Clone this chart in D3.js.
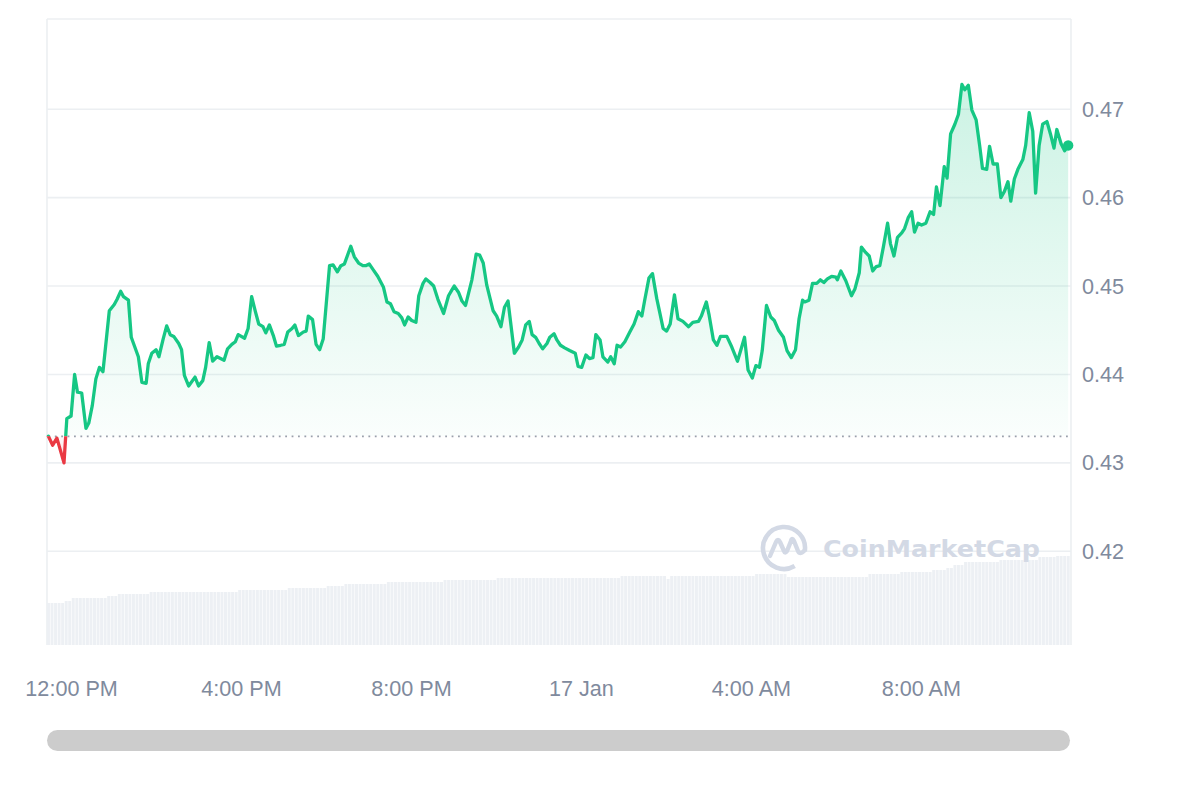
<!DOCTYPE html>
<html><head><meta charset="utf-8">
<script src="https://cdn.jsdelivr.net/npm/d3@7"></script>
<style>html,body{margin:0;padding:0;background:#fff;} svg{display:block;}</style>
</head><body>
<svg id="chart" width="1200" height="800"></svg>
<script>
// ---------- data ----------
const priceTimes = [
"11:28","11:34","11:40","11:50","11:54","12:00","12:05","12:09","12:15","12:21","12:25","12:30","12:35","12:40","12:45","12:54",
"13:01","13:05","13:10","13:14","13:21","13:25","13:30","13:35","13:40","13:46","13:49","13:54","14:00","14:04","14:10","14:15",
"14:20","14:25","14:32","14:36","14:40","14:46","14:55","15:00","15:06","15:10","15:15","15:20","15:26","15:36","15:41","15:47",
"15:52","15:56","16:05","16:10","16:15","16:20","16:25","16:31","16:35","16:40","16:46","16:50","16:56","17:01","17:06","17:12",
"17:16","17:21","17:28","17:32","17:35","17:41","17:46","17:51","17:56","18:05","18:10","18:16","18:21","18:26","18:35","18:40",
"18:46","18:52","18:56","19:01","19:07","19:13","19:21","19:26","19:31","19:36","19:42","19:47","19:51","19:56","20:01","20:07",
"20:11","20:17","20:21","20:27","20:32","20:38","20:46","20:53","20:58","21:01","21:07","21:12","21:17","21:26","21:32","21:37",
"21:42","21:47","21:56","22:01","22:07","22:12","22:17","22:26","22:32","22:37","22:42","22:47","22:51","22:56","23:01","23:06",
"23:12","23:16","23:22","23:26","23:31","23:37","23:44","23:52","23:56","00:01","00:07","00:12","00:17","00:21","00:27","00:31",
"00:38","00:42","00:47","00:51","00:56","01:02","01:09","01:15","01:21","01:26","01:30","01:36","01:41","01:47","01:51","01:56",
"02:01","02:06","02:12","02:17","02:24","02:32","02:38","02:46","02:50","02:57","03:01","03:07","03:12","03:17","03:26","03:33",
"03:41","03:47","03:51","03:56","04:02","04:07","04:12","04:16","04:22","04:28","04:33","04:39","04:46","04:51","04:57","05:03",
"05:08","05:13","05:16","05:22","05:27","05:33","05:38","05:43","05:48","05:54","06:00","06:02","06:07","06:14","06:22","06:27",
"06:33","06:36","06:42","06:47","06:52","06:57","07:02","07:07","07:13","07:17","07:22","07:27","07:33","07:37","07:42","07:47",
"07:51","07:56","08:01","08:07","08:13","08:18","08:22","08:27","08:33","08:37","08:42","08:48","08:53","08:58","09:02","09:07",
"09:12","09:18","09:23","09:27","09:33","09:37","09:42","09:48","09:53","09:58","10:03","10:07","10:12","10:17","10:24","10:28",
"10:33","10:38","10:42","10:47","10:52","10:58","11:03","11:08","11:12","11:18","11:23","11:28"
];
const priceValues = [
0.4330,0.4320,0.4328,0.4300,0.4350,0.4353,0.4400,0.4380,0.4379,0.4339,0.4345,0.4365,0.4395,0.4408,0.4403,0.4472,
0.4479,0.4485,0.4494,0.4488,0.4484,0.4442,0.4431,0.4420,0.4391,0.4390,0.4412,0.4424,0.4428,0.4420,0.4440,0.4455,
0.4445,0.4443,0.4435,0.4428,0.4399,0.4387,0.4397,0.4387,0.4393,0.4408,0.4436,0.4415,0.4420,0.4416,0.4429,0.4434,
0.4437,0.4445,0.4441,0.4452,0.4488,0.4472,0.4457,0.4454,0.4447,0.4456,0.4443,0.4432,0.4433,0.4434,0.4448,0.4452,
0.4456,0.4444,0.4448,0.4449,0.4466,0.4462,0.4434,0.4428,0.4440,0.4523,0.4524,0.4516,0.4523,0.4525,0.4545,0.4533,
0.4526,0.4523,0.4523,0.4525,0.4518,0.4511,0.4499,0.4482,0.4480,0.4471,0.4469,0.4464,0.4456,0.4465,0.4461,0.4459,
0.4489,0.4503,0.4508,0.4504,0.4500,0.4485,0.4469,0.4489,0.4496,0.4500,0.4493,0.4483,0.4478,0.4507,0.4536,0.4535,
0.4526,0.4501,0.4472,0.4466,0.4454,0.4476,0.4483,0.4424,0.4431,0.4439,0.4456,0.4460,0.4445,0.4442,0.4435,0.4429,
0.4435,0.4442,0.4446,0.4439,0.4433,0.4430,0.4427,0.4424,0.4409,0.4408,0.4422,0.4418,0.4419,0.4445,0.4439,0.4420,
0.4414,0.4420,0.4412,0.4433,0.4431,0.4437,0.4448,0.4457,0.4471,0.4466,0.4484,0.4509,0.4514,0.4486,0.4471,0.4452,
0.4449,0.4457,0.4490,0.4463,0.4460,0.4454,0.4459,0.4460,0.4466,0.4482,0.4467,0.4439,0.4433,0.4443,0.4443,0.4431,
0.4415,0.4431,0.4442,0.4405,0.4396,0.4410,0.4408,0.4427,0.4478,0.4465,0.4461,0.4450,0.4442,0.4427,0.4419,0.4428,
0.4463,0.4484,0.4482,0.4484,0.4503,0.4503,0.4507,0.4504,0.4508,0.4511,0.4510,0.4507,0.4517,0.4506,0.4489,0.4497,
0.4515,0.4544,0.4538,0.4534,0.4517,0.4522,0.4523,0.4544,0.4571,0.4548,0.4534,0.4555,0.4560,0.4565,0.4577,0.4584,
0.4561,0.4571,0.4569,0.4571,0.4584,0.4581,0.4612,0.4591,0.4635,0.4622,0.4672,0.4683,0.4694,0.4728,0.4722,0.4727,
0.4699,0.4688,0.4659,0.4633,0.4632,0.4658,0.4638,0.4638,0.4600,0.4607,0.4618,0.4596,0.4621,0.4632,0.4643,0.4659,
0.4696,0.4675,0.4605,0.4659,0.4683,0.4686,0.4672,0.4656,0.4677,0.4661,0.4653,0.4659
];
// volume bars, one per 5 minutes starting 11:26 (relative units)
const volumeStart = "11:26";
const volumeValues = [
42,42,42,42,42,44,44,47,47,47,47,47,
47,47,47,47,47,49,49,49,51,51,51,51,
51,51,51,51,51,53,53,53,53,53,53,53,
53,53,53,53,53,53,53,53,53,53,53,53,
53,53,53,53,53,53,55,55,55,55,55,55,
55,55,55,55,55,55,55,55,57,57,57,57,
57,57,57,57,57,57,57,59,59,59,59,59,
61,61,61,61,61,61,61,61,61,61,61,61,
63,63,63,63,63,63,63,63,63,63,63,63,
63,63,63,63,65,65,65,65,65,65,65,65,
65,65,65,65,65,65,65,67,67,67,67,67,
67,67,67,67,67,67,67,67,67,67,67,67,
67,67,67,67,67,67,67,67,67,67,67,67,
67,67,67,67,67,67,69,69,69,69,69,69,
69,69,69,69,69,69,69,66,69,69,69,69,
69,69,69,69,69,69,69,69,69,69,69,69,
69,69,69,69,69,69,69,69,71,71,71,71,
71,71,71,71,71,68,68,68,68,68,68,68,
68,68,68,68,68,68,68,68,68,68,68,68,
68,68,68,68,71,71,71,71,71,71,71,71,
71,73,73,73,73,73,73,73,73,73,75,75,
75,75,77,77,80,80,80,83,83,83,83,83,
83,83,83,83,83,85,85,85,85,85,85,85,
85,85,85,85,88,88,88,88,88,89,89,89,
89
];
const referencePrice = 0.4330;
const yTickValues = [0.42, 0.43, 0.44, 0.45, 0.46, 0.47];
const xTickTimes = ["12:00", "16:00", "20:00", "00:00", "04:00", "08:00"];
const xTickLabels = ["12:00 PM", "4:00 PM", "8:00 PM", "17 Jan", "4:00 AM", "8:00 AM"];

// ---------- helpers ----------
function parseSeq(list) {
  let day = 0, prev = -1;
  return list.map(s => {
    const [h, m] = s.split(":").map(Number);
    const mins = h * 60 + m;
    if (mins < prev) day++;
    prev = mins;
    return new Date(2025, 0, 16 + day, h, m);
  });
}

const GREEN = "#16c784", RED = "#ea3943";
const L = 47, R = 1071, T = 19, B = 645;

const svg = d3.select("#chart");
const defs = svg.append("defs");

const x = d3.scaleTime()
  .domain([new Date(2025, 0, 16, 11, 26), new Date(2025, 0, 17, 11, 32)])
  .range([L, R]);
const y = d3.scaleLinear().domain([0.4094, 0.4802]).range([B, T]);
const yVol = d3.scaleLinear().domain([0, 100]).range([B, B - 100]);

const pTimes = parseSeq(priceTimes);
const data = pTimes.map((t, i) => ({ t, v: priceValues[i] }));
const volStart = parseSeq([volumeStart])[0];
const vol = volumeValues.map((v, i) => ({ t: d3.timeMinute.offset(volStart, 5 * i), v }));

const refY = y(referencePrice);

// ---------- grid & frame ----------
const grid = svg.append("g");
grid.selectAll("line.h").data(yTickValues).join("line")
  .attr("x1", L).attr("x2", R)
  .attr("y1", d => y(d)).attr("y2", d => y(d))
  .attr("stroke", "#eceff2").attr("stroke-width", 1.6);
grid.append("line").attr("x1", L).attr("x2", R).attr("y1", T).attr("y2", T)
  .attr("stroke", "#eceff2").attr("stroke-width", 1.6);
grid.append("line").attr("x1", L).attr("x2", L).attr("y1", T).attr("y2", B)
  .attr("stroke", "#eceff2").attr("stroke-width", 1.6);
grid.append("line").attr("x1", R).attr("x2", R).attr("y1", T).attr("y2", B)
  .attr("stroke", "#eceff2").attr("stroke-width", 1.6);

// ---------- volume bars ----------
svg.append("g").selectAll("rect").data(vol).join("rect")
  .attr("x", d => x(d.t))
  .attr("width", d => Math.max(0.5, x(d3.timeMinute.offset(d.t, 5)) - x(d.t) - 0.6))
  .attr("y", d => yVol(d.v))
  .attr("height", d => B - yVol(d.v))
  .attr("fill", "#edf0f4");

// ---------- watermark ----------
const wm = svg.append("g").attr("fill", "none").attr("stroke", "#d3d9e5");
wm.append("path")
  .attr("d", d3.arc()({ innerRadius: 21, outerRadius: 21, startAngle: Math.PI * 0.83, endAngle: Math.PI * 2.55 }))
  .attr("transform", "translate(784,548)")
  .attr("stroke-width", 4.6).attr("stroke-linecap", "round");
wm.append("path")
  .attr("d", "M770,556 L776,542 Q778,538 780,542 L784,551 Q785,554 787,551 L791,541 Q792,537 794,541 L798,551 Q800,555 804,551")
  .attr("stroke-width", 4.4).attr("stroke-linecap", "round").attr("stroke-linejoin", "round");
svg.append("text")
  .attr("x", 823).attr("y", 557)
  .attr("font-family", "'DejaVu Sans', 'Liberation Sans', sans-serif")
  .attr("font-weight", "bold").attr("font-size", 22.5)
  .attr("textLength", 217).attr("lengthAdjust", "spacingAndGlyphs")
  .attr("fill", "#d3d9e5").text("CoinMarketCap");

// ---------- gradients & clips ----------
const maxV = d3.max(priceValues), minV = d3.min(priceValues);
const gG = defs.append("linearGradient").attr("id", "gGreen").attr("gradientUnits", "userSpaceOnUse")
  .attr("x1", 0).attr("x2", 0).attr("y1", y(maxV)).attr("y2", refY);
gG.append("stop").attr("offset", 0).attr("stop-color", GREEN).attr("stop-opacity", 0.22);
gG.append("stop").attr("offset", 1).attr("stop-color", GREEN).attr("stop-opacity", 0.02);
const gR = defs.append("linearGradient").attr("id", "gRed").attr("gradientUnits", "userSpaceOnUse")
  .attr("x1", 0).attr("x2", 0).attr("y1", refY).attr("y2", y(minV));
gR.append("stop").attr("offset", 0).attr("stop-color", RED).attr("stop-opacity", 0.02);
gR.append("stop").attr("offset", 1).attr("stop-color", RED).attr("stop-opacity", 0.2);

defs.append("clipPath").attr("id", "above").append("rect")
  .attr("x", 0).attr("y", 0).attr("width", 1200).attr("height", refY);
defs.append("clipPath").attr("id", "below").append("rect")
  .attr("x", 0).attr("y", refY).attr("width", 1200).attr("height", 800 - refY);

const area = d3.area().x(d => x(d.t)).y0(refY).y1(d => y(d.v));
const line = d3.line().x(d => x(d.t)).y(d => y(d.v));

svg.append("path").datum(data).attr("d", area).attr("fill", "url(#gGreen)").attr("clip-path", "url(#above)");
svg.append("path").datum(data).attr("d", area).attr("fill", "url(#gRed)").attr("clip-path", "url(#below)");

// reference dotted line
svg.append("line")
  .attr("x1", x(data[0].t)).attr("x2", R - 2)
  .attr("y1", refY).attr("y2", refY)
  .attr("stroke", "#9aa0ac").attr("stroke-width", 1.6)
  .attr("stroke-dasharray", "1.8 4.6");

svg.append("path").datum(data).attr("d", line).attr("fill", "none")
  .attr("stroke", GREEN).attr("stroke-width", 3.3).attr("stroke-linejoin", "round").attr("stroke-linecap", "round")
  .attr("clip-path", "url(#above)");
svg.append("path").datum(data).attr("d", line).attr("fill", "none")
  .attr("stroke", RED).attr("stroke-width", 3.3).attr("stroke-linejoin", "round").attr("stroke-linecap", "round")
  .attr("clip-path", "url(#below)");

const last = data[data.length - 1];
svg.append("circle").attr("cx", x(last.t)).attr("cy", y(last.v)).attr("r", 5.2)
  .attr("fill", last.v >= referencePrice ? GREEN : RED);

// ---------- axes ----------
const FONT = "'Liberation Sans', Arial, Helvetica, sans-serif";
const yAxis = d3.axisRight(y).tickValues(yTickValues).tickFormat(d3.format(".2f")).tickSize(0).tickPadding(11);
const gy = svg.append("g").attr("transform", `translate(${R},0)`).call(yAxis);
gy.select(".domain").remove();
gy.selectAll("text").attr("font-family", FONT).attr("font-size", 21.6).attr("fill", "#808a9d").attr("dy", "0.33em");

const xTicks = parseSeq(xTickTimes);
const xAxis = d3.axisBottom(x).tickValues(xTicks).tickFormat((d, i) => xTickLabels[i]).tickSize(0).tickPadding(36);
const gx = svg.append("g").attr("transform", `translate(0,${B})`).call(xAxis);
gx.select(".domain").remove();
gx.selectAll("text").attr("font-family", FONT).attr("font-size", 21.6).attr("fill", "#808a9d");

// ---------- scrollbar ----------
svg.append("rect").attr("x", L).attr("y", 730).attr("width", R - L - 1).attr("height", 21)
  .attr("rx", 10.5).attr("fill", "#cccccc");
</script>
</body></html>
